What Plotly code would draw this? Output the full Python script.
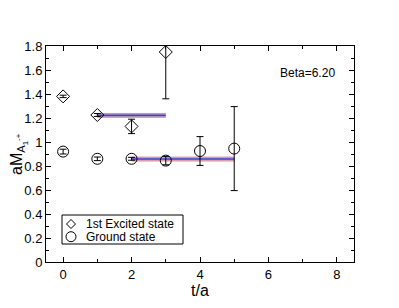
import plotly.graph_objects as go

# Data
t_exc = [0, 1, 2, 3]
m_exc = [1.38, 1.225, 1.13, 1.75]
e_exc = [0.01, 0.012, 0.06, 0.39]

t_gnd = [0, 1, 2, 3, 4, 5]
m_gnd = [0.92, 0.86, 0.86, 0.845, 0.925, 0.945]
e_gnd = [0.02, 0.015, 0.012, 0.035, 0.12, 0.35]

fit_exc_range = [1, 3]
fit_exc_val = 1.222
fit_exc_err = 0.016
fit_gnd_range = [2, 5]
fit_gnd_val = 0.858
fit_gnd_err = 0.016

legend_labels = ["1st Excited state", "Ground state"]

x_ticks = [0, 2, 4, 6, 8]
y_ticks = [0, 0.2, 0.4, 0.6, 0.8, 1, 1.2, 1.4, 1.6, 1.8]
y_tick_text = ["0", "0.2", "0.4", "0.6", "0.8", "1", "1.2", "1.4", "1.6", "1.8"]

# page body has an 8px margin; compensate so the plot sits where the reference has it
W, H = 399 - 8, 308 - 8
ML, MR, MT, MB = 38, 45, 38, 46
PW, PH = W - ML - MR, H - MT - MB


def px2paper(x, y):
    # x, y in reference page pixels
    return (x - 8 - ML) / PW, (H - MB - (y - 8)) / PH


fig = go.Figure()


def add_fit(rng, val, err):
    fig.add_trace(go.Scatter(x=rng, y=[val - err] * 2, mode="lines",
                             line=dict(color="rgb(215,140,150)", width=1),
                             showlegend=False, hoverinfo="skip"))
    fig.add_trace(go.Scatter(x=rng, y=[val + err] * 2, mode="lines",
                             line=dict(color="rgb(215,140,150)", width=1),
                             fill="tonexty", fillcolor="rgb(220,180,190)",
                             showlegend=False, hoverinfo="skip"))
    fig.add_trace(go.Scatter(x=rng, y=[val] * 2, mode="lines",
                             line=dict(color="rgb(60,60,215)", width=1.6),
                             showlegend=False, hoverinfo="skip"))


add_fit(fit_exc_range, fit_exc_val, fit_exc_err)
add_fit(fit_gnd_range, fit_gnd_val, fit_gnd_err)

fig.add_trace(go.Scatter(
    x=t_exc, y=m_exc, mode="markers", name=legend_labels[0], showlegend=False,
    marker=dict(symbol="diamond-open", size=10, color="black", line=dict(width=1)),
    error_y=dict(type="data", array=e_exc, color="black", thickness=1, width=3.5)))
fig.add_trace(go.Scatter(
    x=t_gnd, y=m_gnd, mode="markers", name=legend_labels[1], showlegend=False,
    marker=dict(symbol="circle-open", size=11, color="black", line=dict(width=1)),
    error_y=dict(type="data", array=e_gnd, color="black", thickness=1, width=3.5)))

# annotation
bx, by = px2paper(337, 72.7)
fig.add_annotation(x=bx, y=by, xref="paper", yref="paper",
                   text="Beta=6.20", showarrow=False, xanchor="right", yanchor="middle",
                   font=dict(size=12, color="black"))

# y-axis title placed as a rotated annotation
tx_, ty_ = px2paper(19, 154)
fig.add_annotation(x=tx_, y=ty_, xref="paper", yref="paper",
                   text="aM<sub>A<sub>1</sub><sup>-+</sup></sub>", textangle=-90,
                   showarrow=False, xanchor="center", yanchor="middle",
                   font=dict(size=16, color="black"))

# hand-drawn legend box (compact, like the reference)
x0, y0 = px2paper(62, 244)
x1, y1 = px2paper(183, 215)
fig.add_shape(type="rect", xref="paper", yref="paper", x0=x0, y0=y0, x1=x1, y1=y1,
              line=dict(color="black", width=1), fillcolor="white", layer="above")
row_y = [224, 236.7]
mx = 71
tx = 84
# diamond symbol
cx, cy = px2paper(mx, row_y[0])
dx, dy = 4.5 / PW, 4.5 / PH
fig.add_shape(type="path", xref="paper", yref="paper",
              path=f"M {cx - dx},{cy} L {cx},{cy + dy} L {cx + dx},{cy} L {cx},{cy - dy} Z",
              line=dict(color="black", width=1), layer="above")
# circle symbol
cx, cy = px2paper(mx, row_y[1])
rx, ry = 5 / PW, 5 / PH
fig.add_shape(type="circle", xref="paper", yref="paper",
              x0=cx - rx, x1=cx + rx, y0=cy - ry, y1=cy + ry,
              line=dict(color="black", width=1), layer="above")
for lab, ry_px in zip(legend_labels, row_y):
    lx, ly = px2paper(tx, ry_px)
    fig.add_annotation(x=lx, y=ly, xref="paper", yref="paper", text=lab,
                       showarrow=False, xanchor="left", yanchor="middle",
                       font=dict(size=12, color="black"))

axis_common = dict(showline=True, linecolor="black", linewidth=1, mirror="allticks",
                   ticks="inside", tickcolor="black", ticklen=5, showgrid=False,
                   zeroline=False, tickfont=dict(size=13, color="black"),
                   automargin=False)

fig.update_xaxes(range=[-0.5, 8.5], tickvals=x_ticks,
                 minor=dict(dtick=1, tick0=0, ticks="inside", ticklen=3, tickcolor="black"),
                 title=dict(text="t/a", font=dict(size=16, color="black"), standoff=0),
                 **axis_common)
fig.update_yaxes(range=[0, 1.8], tickvals=y_ticks, ticktext=y_tick_text,
                 minor=dict(dtick=0.1, tick0=0, ticks="inside", ticklen=3, tickcolor="black"),
                 **axis_common)

fig.update_layout(
    width=W, height=H,
    margin=dict(l=ML, r=MR, t=MT, b=MB),
    paper_bgcolor="white", plot_bgcolor="white",
    font=dict(family="Liberation Sans, Arial, sans-serif", color="black"),
    showlegend=False,
)

fig.write_html("out.html")
